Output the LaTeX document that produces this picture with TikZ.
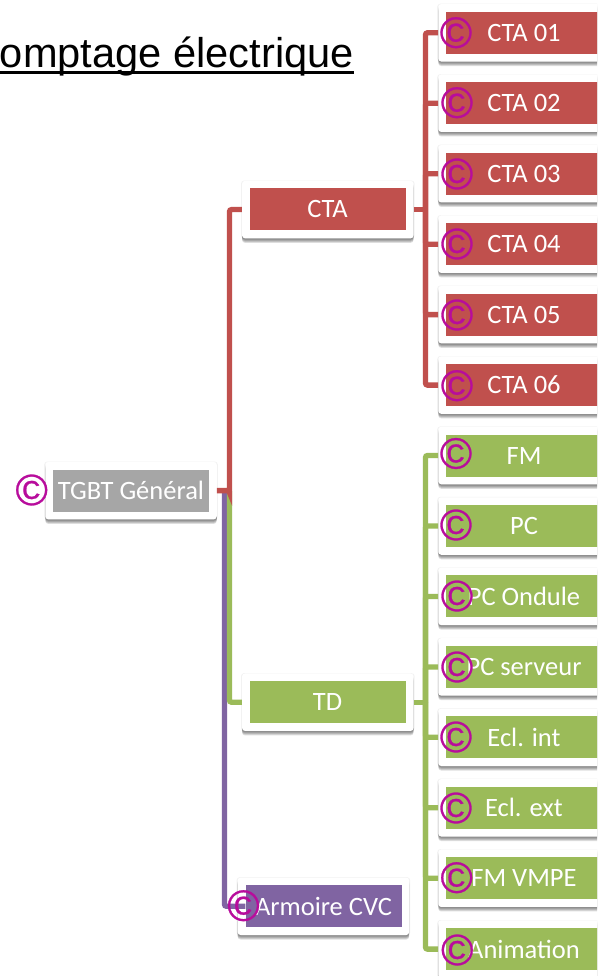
\documentclass[tikz,border=0pt]{standalone}
\usepackage{fontspec}
\setmainfont{Carlito}
\newfontfamily\arialf{Liberation Sans}
\newfontfamily\markf[FakeBold=0.6]{Liberation Sans}
\usetikzlibrary{shadows}
\definecolor{cred}{HTML}{C0504D}
\definecolor{cgreen}{HTML}{9BBB59}
\definecolor{cpurple}{HTML}{8064A2}
\definecolor{cgrey}{HTML}{A6A6A6}
\definecolor{cmag}{HTML}{B80C9C}
\tikzset{
  softshadow/.style={drop shadow={shadow xshift=0pt,shadow yshift=#1,fill=black,opacity=.13}},
  cardbox/.style={minimum width=171.5pt,minimum height=57.5pt,inner sep=0pt,rounded corners=3pt,fill=white,
    softshadow=-4.5pt,softshadow=-3.5pt,softshadow=-2.5pt,softshadow=-1.5pt,
    drop shadow={shadow xshift=0pt,shadow yshift=0pt,shadow scale=1.012,fill=black,opacity=.05}},
  fillbox/.style={minimum width=156pt,minimum height=42pt,inner sep=0pt,text=white,font=\fontsize{26.5}{30}\selectfont},
  link/.style={line width=5.3pt,rounded corners=2pt},
  cmark/.style={inner sep=0pt,text=cmag,font=\markf\fontsize{44}{44}\selectfont},
}
\begin{document}
\begin{tikzpicture}[x=1pt,y=-1pt]
\useasboundingbox (0,0) rectangle (597,976);
\clip (0,0) rectangle (597,976);
\fill[white] (0,0) rectangle (597,976);
\node[anchor=base east,inner sep=0pt,font=\arialf\fontsize{41.6}{44}\selectfont] (title) at (354,67.5) {Comptage électrique};
\draw[line width=2.6pt] ([yshift=-5.2pt]title.base west) -- ([yshift=-5.2pt]title.base east);
% cards
\foreach \n/\y/\c/\t in {c1/32.8/cred/CTA 01,c2/103.2/cred/CTA 02,c3/173.7/cred/CTA 03,c4/244.2/cred/CTA 04,c5/314.6/cred/CTA 05,c6/385.1/cred/CTA 06,
  g1/455.5/cgreen/FM,g2/526/cgreen/PC,g3/596.4/cgreen/PC Ondule,g4/666.9/cgreen/PC serveur,g5/737.3/cgreen/Ecl. int,g6/807.8/cgreen/Ecl. ext,g7/878.2/cgreen/FM VMPE,g8/949.1/cgreen/Animation}{
  \node[cardbox] (\n card) at (524,\y) {};
  \node[fillbox,fill=\c] (\n) at (524,\y) {\t};
}
\node[cardbox] (tgbtcard) at (131,490.6) {};
\node[fillbox,fill=cgrey] (tgbt) at (131,490.8) {TGBT Général};
\node[cardbox] (ctacard) at (327.8,209.6) {};
\node[fillbox,fill=cred] (cta) at (327.5,209.2) {CTA};
\node[cardbox] (tdcard) at (327.8,702.2) {};
\node[fillbox,fill=cgreen] (td) at (327.5,702) {TD};
\node[cardbox] (cvccard) at (323.4,906.3) {};
\node[fillbox,fill=cpurple] (cvc) at (323.5,906.3) {Armoire CVC};
% connectors
\coordinate (busP) at (224.5,491);
\coordinate (busT) at (229.5,491);
\coordinate (busR) at (425.5,209.6);
\coordinate (busG) at (425.5,702.2);
\draw[link,cpurple] (busP) |- (cvc.west);
\draw[link,cgreen] (busT) |- (tdcard.west);
\draw[link,cred] (tgbtcard.east) -| (busT) |- (ctacard.west);
\draw[link,cred,rounded corners=0pt] (ctacard.east) -- (busR);
\foreach \n in {c1,c2,c3,c4,c5,c6}{\draw[link,cred] (busR) |- (\n card.west);}
\draw[link,cgreen,rounded corners=0pt] (tdcard.east) -- (busG);
\foreach \n in {g1,g2,g3,g4,g5,g6,g7,g8}{\draw[link,cgreen] (busG) |- (\n card.west);}
% counters
\foreach \n/\x/\y in {mt/31.7/490,m1/456/32.7,m2/457/102.7,m3/457/174,m4/457/244,m5/457/315,m6/457/385.7,n1/456/453.5,n2/456/525,n3/457/596,n4/457/667,n5/456/737,n6/456/808,n7/456.7/877.7,n8/457.3/950,mc/243.5/905.7}{
  \node[cmark] (\n) at (\x,\y) {©};
}
\end{tikzpicture}
\end{document}
